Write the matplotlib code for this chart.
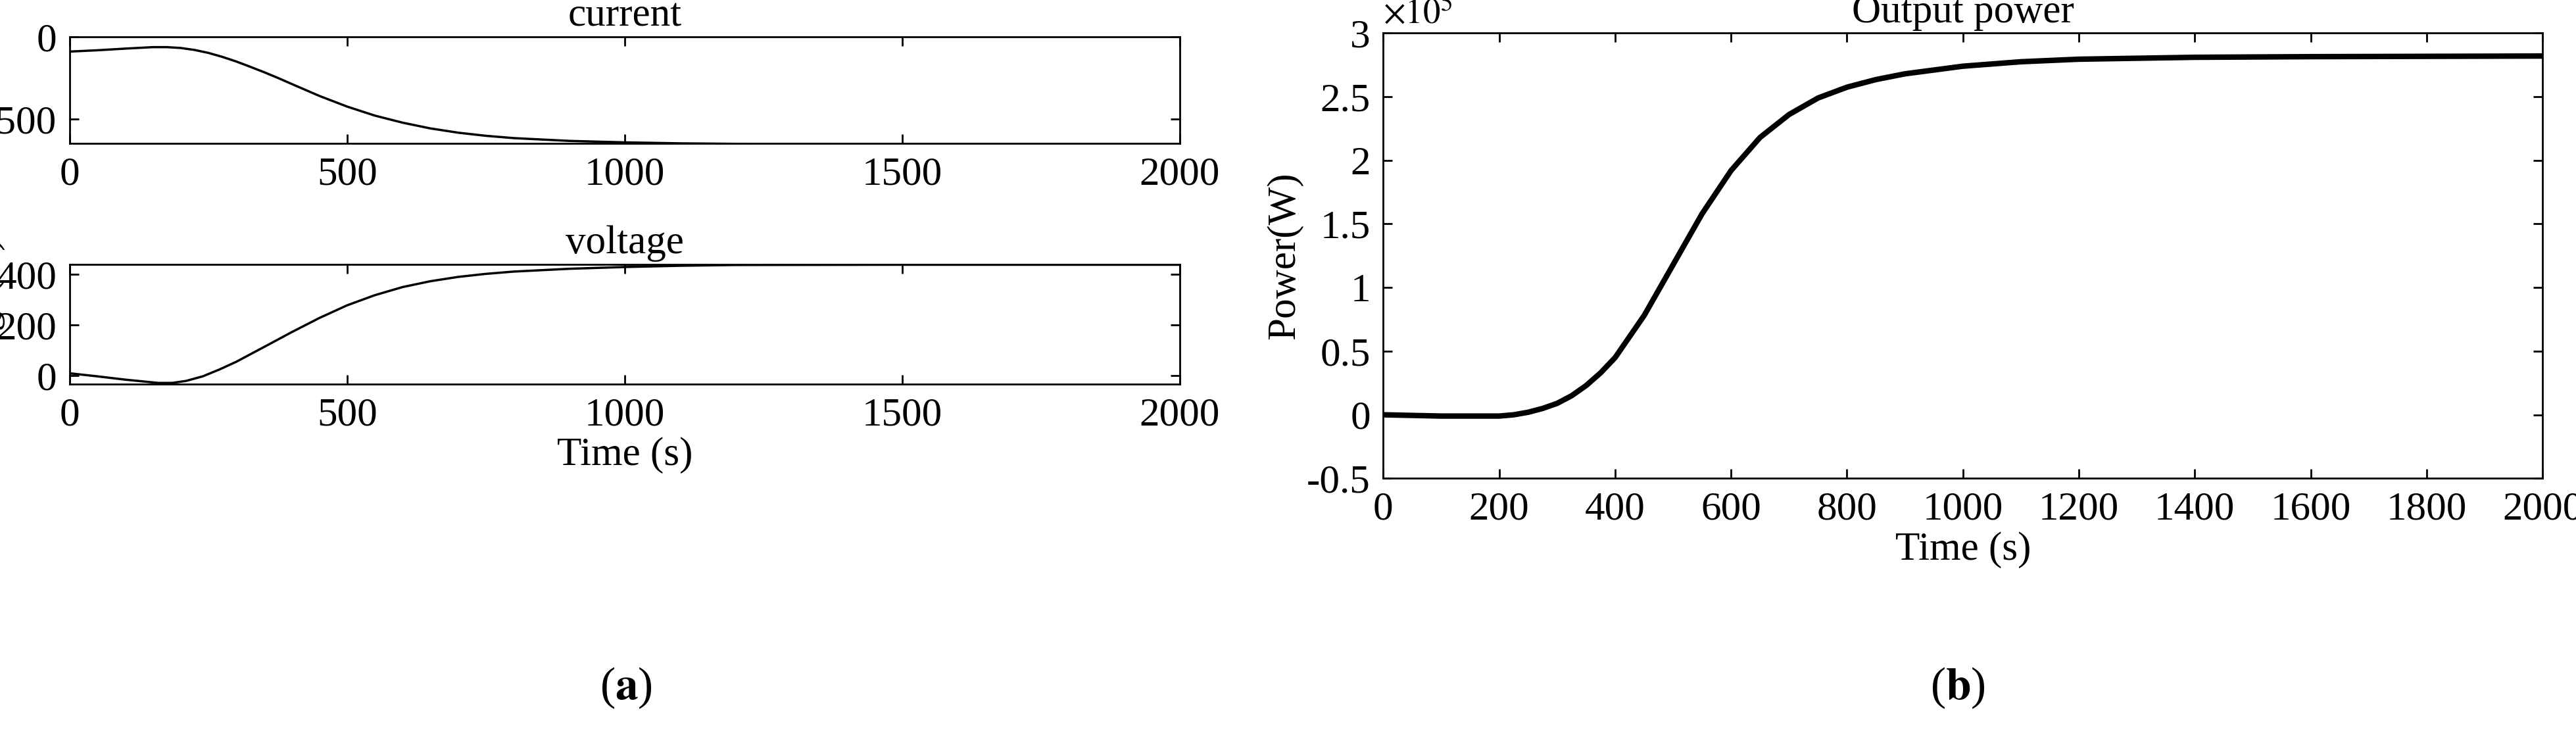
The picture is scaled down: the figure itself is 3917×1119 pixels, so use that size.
import matplotlib
matplotlib.use("Agg")
import matplotlib.pyplot as plt
import matplotlib.ticker as mtick

plt.rcParams['font.family'] = ['Liberation Serif', 'DejaVu Serif']
plt.rcParams['mathtext.fontset'] = 'stix'
plt.rcParams['font.size'] = 44

# current (A) vs time
t_cur = [0, 50, 100, 150, 175, 200, 225, 250, 275, 300, 325, 350, 375, 400, 450, 500, 550, 600, 650, 700, 750, 800, 900, 1000, 1100, 1200, 1500, 2000]
cur = [-90, -82, -72, -63, -63, -68, -80, -98, -122, -150, -182, -215, -250, -287, -360, -425, -480, -523, -558, -584, -603, -617, -634, -643, -649, -652, -653, -653]

# voltage (V) vs time
t_volt = [0, 50, 100, 160, 185, 210, 240, 270, 300, 330, 360, 400, 450, 500, 550, 600, 650, 700, 750, 800, 900, 1000, 1100, 1200, 1500, 2000]
volt = [10, -2, -15, -28, -28, -20, -2, 25, 55, 90, 125, 172, 228, 278, 318, 350, 373, 390, 402, 411, 422, 429, 434, 437, 438, 438]

# output power (W) vs time
t_pow = [0, 100, 200, 225, 250, 275, 300, 325, 350, 375, 400, 450, 500, 550, 600, 650, 700, 750, 800, 850, 900, 1000, 1100, 1200, 1400, 1600, 2000]
power = [0, -1000, -1000, 0, 2000, 5000, 9000, 15000, 23000, 33000, 45000, 78000, 118000, 158000, 192000, 218000, 236000, 249000, 257500, 263500, 268000, 274000, 277500, 279500, 281000, 281500, 282000]

fig = plt.figure(figsize=(39.17, 11.19), dpi=100)

ax1 = fig.add_axes([0.027, 0.805, 0.431, 0.145])
ax2 = fig.add_axes([0.027, 0.478, 0.431, 0.163])
ax3 = fig.add_axes([0.537, 0.35, 0.45, 0.605])

for ax in (ax1, ax2, ax3):
    ax.tick_params(direction='in', top=True, right=True, length=10, width=2, pad=14)
    for s in ax.spines.values():
        s.set_linewidth(2)
    ax.set_xlim(0, 2000)

ax1.plot(t_cur, cur, color='black', lw=2.5)
ax1.set_ylim(-650, 0)
ax1.set_yticks([-500, 0])
ax1.set_xticks([0, 500, 1000, 1500, 2000])
ax1.set_title('current', fontsize=44, pad=12)
ax1.set_ylabel('Current(A)', labelpad=0)

ax2.plot(t_volt, volt, color='black', lw=2.5)
ax2.set_ylim(-33, 440)
ax2.set_yticks([0, 200, 400])
ax2.set_xticks([0, 500, 1000, 1500, 2000])
ax2.set_title('voltage', fontsize=44, pad=12)
ax2.set_ylabel('voltage(V)', labelpad=-10)
ax2.set_xlabel('Time (s)', labelpad=4)

ax3.plot(t_pow, power, color='black', lw=6)
ax3.set_ylim(-50000, 300000)
ax3.set_xticks(range(0, 2001, 200))
ax3.set_yticks([-50000, 0, 50000, 100000, 150000, 200000, 250000, 300000])
ax3.yaxis.set_major_formatter(mtick.FuncFormatter(lambda v, p: f"{v / 1e5:g}"))
ax3.text(0.0, 1.005, r'$\times10^5$', transform=ax3.transAxes, fontsize=38, va='bottom')
ax3.set_title('Output power', fontsize=44, pad=12)
ax3.set_ylabel('Power(W)')
ax3.set_xlabel('Time (s)', labelpad=4)

fig.text(0.243, 0.05, r'($\mathbf{a}$)', ha='center', fontsize=50)
fig.text(0.76, 0.05, r'($\mathbf{b}$)', ha='center', fontsize=50)

fig.savefig('out.png', dpi=100)
